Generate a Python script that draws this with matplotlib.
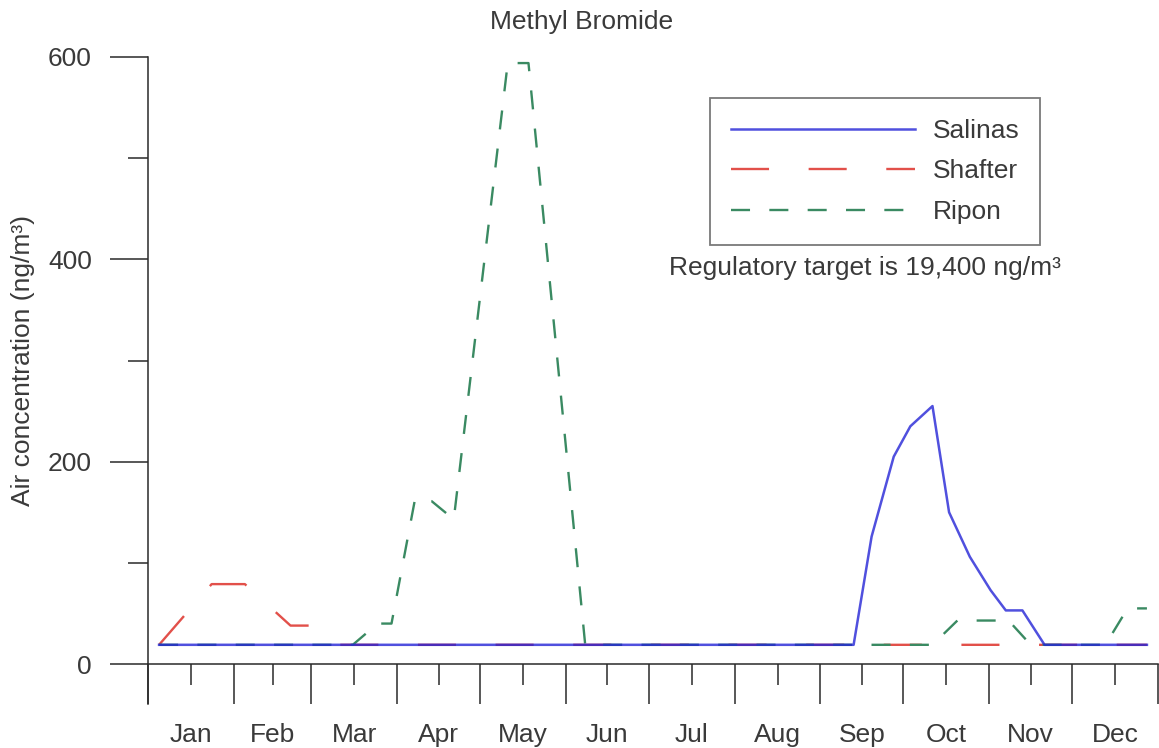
import matplotlib
matplotlib.use("Agg")
import matplotlib.pyplot as plt
from matplotlib.ticker import NullFormatter

plt.rcParams['font.family'] = ['Liberation Sans', 'DejaVu Sans']
plt.rcParams['lines.scale_dashes'] = False

# ---- data (x = day of year) ----
months = ["Jan", "Feb", "Mar", "Apr", "May", "Jun", "Jul", "Aug", "Sep", "Oct", "Nov", "Dec"]
month_days = [31, 28, 31, 30, 31, 30, 31, 31, 30, 31, 30, 31]

salinas_day = [4, 255, 261.5, 269.5, 275.5, 283.5, 289.5, 297, 304.5, 310, 316, 324, 361]
salinas_val = [19, 19, 126, 205, 235, 255, 150, 106, 73, 53, 53, 19, 19]

shafter_day = [4, 23, 35, 51.5, 60, 67, 361]
shafter_val = [19, 79, 79, 38, 38, 19, 19]

ripon_day = [4, 74, 83, 88, 96.5, 102.5, 110.5, 130, 137.5, 158, 283.5, 292.5, 311, 319, 346, 354, 361]
ripon_val = [19, 19, 40, 40, 163, 161, 143, 594, 594, 19, 19, 43, 43, 19, 19, 55, 55]

yticks_major = [0, 200, 400, 600]
yticks_minor = [100, 300, 500]

title = "Methyl Bromide"
ylabel = "Air concentration (ng/m\u00b3)"
note = "Regulatory target is 19,400 ng/m\u00b3"

# ---- figure ----
W, H = 1159, 748
fig = plt.figure(figsize=(W / 100, H / 100), dpi=100)
def fx(px): return px / W
def fy(py): return 1 - py / H

ax = fig.add_axes([fx(148), fy(704), fx(1158) - fx(148), fy(57) - fy(704)])

C_BLUE = '#2424D6'
C_RED = '#E2504A'
C_GREEN = '#3A8A62'
C_TXT = '#3a3a3a'
C_AX = '#2a2a2a'

l_shafter, = ax.plot(shafter_day, shafter_val, color=C_RED, lw=1.7, dashes=(27.4, 28.5), label="Shafter")
l_ripon, = ax.plot(ripon_day, ripon_val, color=C_GREEN, lw=1.7, dashes=(13.7, 13.9), label="Ripon")
l_salinas, = ax.plot(salinas_day, salinas_val, color=C_BLUE, lw=1.8, alpha=0.8, label="Salinas")

# axes limits
ax.set_xlim(0, sum(month_days))
ax.set_ylim(-39.5, 600)

for s in ['top', 'right']:
    ax.spines[s].set_visible(False)
ax.spines['left'].set_color(C_AX)
ax.spines['left'].set_linewidth(1.1)
ax.spines['bottom'].set_position(('data', 0))
ax.spines['bottom'].set_color(C_AX)
ax.spines['bottom'].set_linewidth(1.1)

# x ticks: month boundaries (long) and midpoints (short, labelled)
bounds = [0]
for d in month_days:
    bounds.append(bounds[-1] + d)
mids = [(bounds[i] + bounds[i + 1]) / 2 for i in range(12)]
ax.set_xticks(bounds)
ax.xaxis.set_major_formatter(NullFormatter())
ax.set_xticks(mids, minor=True)
ax.set_xticklabels(months, minor=True)
ax.tick_params(axis='x', which='major', direction='out', length=28.8, width=1.1, color=C_AX)
ax.tick_params(axis='x', which='minor', direction='out', length=15.1, width=1.1, color=C_AX,
               labelsize=19, labelcolor=C_TXT, pad=27)

ax.set_yticks(yticks_major)
ax.set_yticklabels([str(v) for v in yticks_major])
ax.set_yticks(yticks_minor, minor=True)
ax.tick_params(axis='y', which='major', direction='out', length=27.4, width=1.1, color=C_AX,
               labelsize=19, labelcolor=C_TXT, pad=13)
ax.tick_params(axis='y', which='minor', direction='out', length=14.4, width=1.1, color=C_AX)

ax.set_ylabel(ylabel, fontsize=19, color=C_TXT)
ax.yaxis.set_label_coords((35 - 148) / 1010, (300 + 39.5) / 639.5)

fig.text(fx(582), fy(22), title, ha='center', va='center', fontsize=19, color=C_TXT)
fig.text(fx(865), fy(268), note, ha='center', va='center', fontsize=19, color=C_TXT)

leg = ax.legend(handles=[l_salinas, l_shafter, l_ripon], loc='upper left',
                bbox_to_anchor=(fx(710), fy(98)), bbox_transform=fig.transFigure,
                borderaxespad=0, fontsize=19, handlelength=6.95, handletextpad=0.68,
                borderpad=0.8, labelspacing=0.62, fancybox=False, framealpha=1)
leg.get_frame().set_edgecolor('#7a7a7a')
leg.get_frame().set_linewidth(1.3)
for t in leg.get_texts():
    t.set_color(C_TXT)

fig.savefig("out.png", dpi=100)
